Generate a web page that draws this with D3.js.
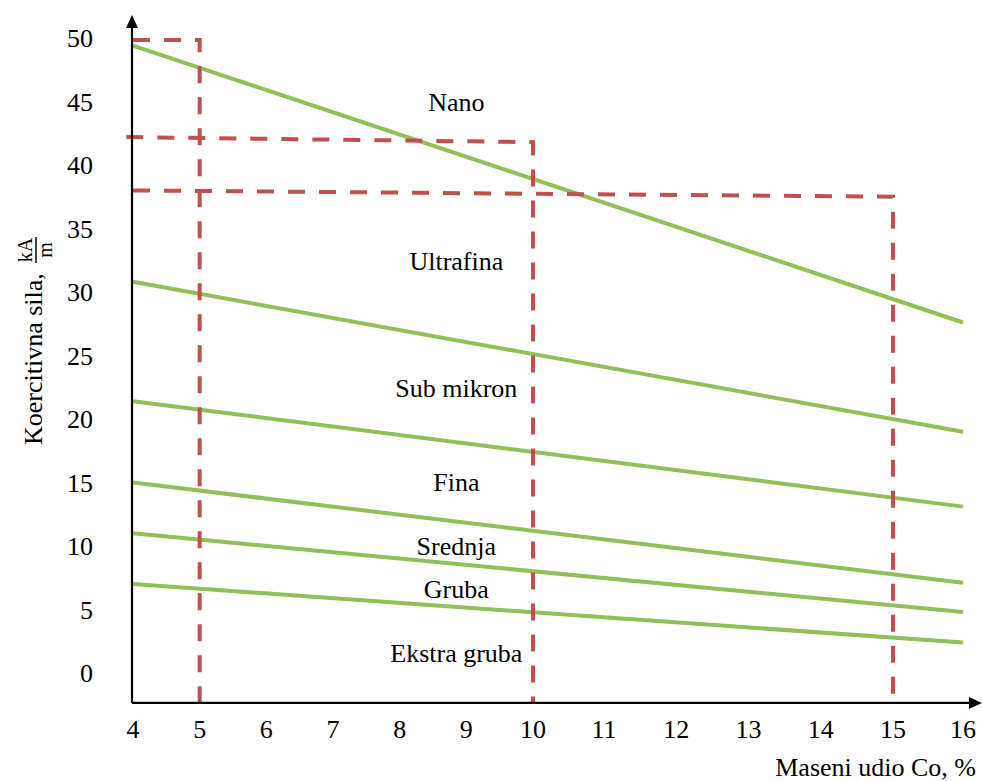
<!DOCTYPE html>
<html>
<head>
<meta charset="utf-8">
<script src="https://cdn.jsdelivr.net/npm/d3@7"></script>
<style>
  html, body { margin: 0; padding: 0; background: #fff; }
  svg { display: block; }
  text { font-family: "Liberation Serif", "Times New Roman", Times, serif; fill: #000; }
</style>
</head>
<body>
<svg id="chart" width="982" height="781"></svg>
<script>
// ---- Data ----
const xTicks = [4, 5, 6, 7, 8, 9, 10, 11, 12, 13, 14, 15, 16];
const yTicks = [0, 5, 10, 15, 20, 25, 30, 35, 40, 45, 50];

// Boundary lines (value at Co = 4 % and at Co = 16 %)
const lineX = [4, 16];
const lineStart = [49.4, 30.8, 21.4, 15.0, 11.0, 7.0];
const lineEnd   = [27.6, 19.0, 13.1, 7.1, 4.8, 2.4];

// Zone labels
const zoneLabels = ["Nano", "Ultrafina", "Sub mikron", "Fina", "Srednja", "Gruba", "Ekstra gruba"];
const zoneLabelY = [44.25, 31.7, 21.7, 14.3, 9.3, 5.9, 0.87];
const zoneLabelX = 8.85;

// Dashed guide lines (Co %, value) – the last point drops to the x-axis
const axisFloor = -2.36;
const dash5  = [[4, 49.85], [5, 49.85], [5, axisFloor]];
const dash10 = [[3.9, 42.2], [10, 41.8], [10, axisFloor]];
const dash15 = [[4, 38.0], [15, 37.5], [15, axisFloor]];

// ---- Drawing ----
const svg = d3.select("#chart");
const x = d3.scaleLinear().domain([4, 10, 11, 15, 16]).range([133, 533, 604, 893, 963]);
const y = d3.scaleLinear().domain([0, 50]).range([673, 38]);

const green = "#92bf57";
const red = "#c0504d";
const fs = 26;

const line = d3.line().x(d => x(d[0])).y(d => y(d[1]));

// green boundary lines
lineStart.forEach((s, i) => {
  svg.append("path")
    .attr("d", line([[lineX[0], s], [lineX[1], lineEnd[i]]]))
    .attr("fill", "none")
    .attr("stroke", green)
    .attr("stroke-width", 4);
});

// dashed red lines
[dash5, dash10, dash15].forEach(pts => {
  svg.append("path")
    .attr("d", line(pts))
    .attr("fill", "none")
    .attr("stroke", red)
    .attr("stroke-width", 4)
    .attr("stroke-dasharray", "17,14");
});

// axes
const x0 = x(4) - 1, yFloor = y(axisFloor);
svg.append("line").attr("x1", x0).attr("y1", yFloor).attr("x2", x0).attr("y2", 24)
  .attr("stroke", "#000").attr("stroke-width", 2.2);
svg.append("path").attr("d", `M${x0},15 L${x0 - 6},28 L${x0 + 6},28 Z`).attr("fill", "#000");
svg.append("line").attr("x1", x0).attr("y1", yFloor).attr("x2", 972).attr("y2", yFloor)
  .attr("stroke", "#000").attr("stroke-width", 2.2);
svg.append("path").attr("d", `M982,${yFloor} L969,${yFloor - 6} L969,${yFloor + 6} Z`).attr("fill", "#000");

// tick labels
svg.selectAll(".yt").data(yTicks).enter().append("text")
  .attr("x", 93).attr("y", d => y(d) + 9)
  .attr("text-anchor", "end").attr("font-size", fs)
  .text(d => d);
svg.selectAll(".xt").data(xTicks).enter().append("text")
  .attr("x", d => x(d)).attr("y", 738)
  .attr("text-anchor", "middle").attr("font-size", fs)
  .text(d => d);

// zone labels
svg.selectAll(".zl").data(zoneLabels).enter().append("text")
  .attr("x", x(zoneLabelX)).attr("y", (d, i) => y(zoneLabelY[i]))
  .attr("text-anchor", "middle").attr("font-size", fs)
  .text(d => d);

// axis titles
svg.append("text").attr("x", 976).attr("y", 776).attr("text-anchor", "end")
  .attr("font-size", fs).text("Maseni udio Co, %");

const yt = svg.append("g").attr("transform", "translate(42,445) rotate(-90)");
yt.append("text").attr("x", 0).attr("y", 0).attr("font-size", fs).text("Koercitivna sila,");
yt.append("text").attr("x", 195).attr("y", -10).attr("text-anchor", "middle").attr("font-size", 20).text("kA");
yt.append("line").attr("x1", 182).attr("x2", 208).attr("y1", -6).attr("y2", -6)
  .attr("stroke", "#000").attr("stroke-width", 1.5);
yt.append("text").attr("x", 195).attr("y", 10).attr("text-anchor", "middle").attr("font-size", 20).text("m");
</script>
</body>
</html>
